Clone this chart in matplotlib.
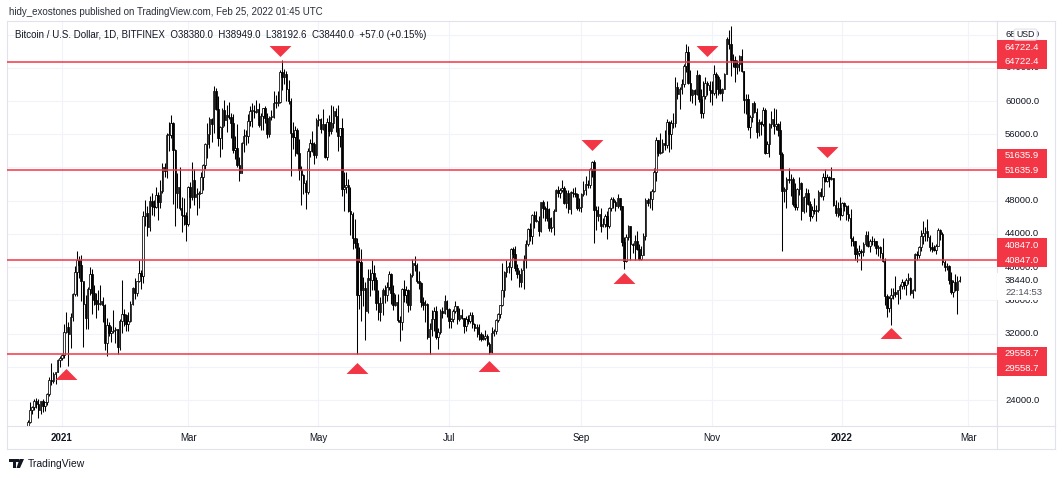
import numpy as np
import pandas as pd
import matplotlib
matplotlib.use("Agg")
import matplotlib.pyplot as plt
from matplotlib.patches import Rectangle, FancyBboxPatch, Polygon
from matplotlib.lines import Line2D

plt.rcParams['font.family'] = ['Liberation Sans', 'DejaVu Sans']

# BTC/USD daily candles (Bitfinex), thousands of USD, 2020-12-16 .. 2022-02-25
first_open = 19.44
closes = [
    # Dec 2020 (16..31)
    21.38, 22.84, 23.14, 23.87, 23.48, 22.75, 23.83, 23.24, 23.73, 24.71, 26.44, 26.27, 27.08, 27.36, 28.84, 29.00,
    # Jan 2021
    29.37, 32.13, 32.78, 31.97, 33.99, 36.82, 39.37, 40.80, 40.25, 38.36, 35.57, 33.92, 37.32, 39.19, 36.83, 36.07,
    35.53, 35.62, 35.90, 35.46, 30.83, 32.99, 32.07, 32.29, 32.37, 32.57, 30.43, 33.47, 34.32, 34.27, 33.11,
    # Feb
    33.54, 35.51, 37.47, 36.93, 38.29, 39.26, 38.90, 46.20, 46.48, 44.84, 47.97, 47.30, 47.20, 48.70, 47.90, 49.20,
    52.10, 51.60, 55.90, 55.90, 57.40, 54.10, 48.90, 49.70, 47.10, 46.30, 46.20, 45.20,
    # Mar
    49.60, 48.40, 50.50, 48.40, 48.80, 48.90, 50.90, 52.30, 54.80, 56.00, 57.80, 57.20, 61.20, 59.00, 55.60, 56.90,
    58.90, 57.70, 58.30, 58.10, 57.40, 54.10, 54.30, 52.30, 51.30, 55.00, 55.80, 55.80, 57.60, 58.80, 58.80,
    # Apr
    58.70, 59.00, 57.10, 58.20, 59.10, 58.00, 56.00, 58.10, 58.10, 59.80, 59.80, 59.90, 63.50, 62.90, 63.20, 61.40,
    60.00, 56.20, 55.70, 56.50, 53.80, 51.70, 51.10, 50.10, 49.10, 54.00, 55.00, 54.80, 53.50, 57.70,
    # May
    57.80, 56.60, 57.20, 53.20, 57.50, 56.40, 57.40, 58.80, 58.20, 55.80, 56.70, 49.40, 49.70, 49.90, 46.70, 46.40,
    43.50, 42.90, 36.70, 40.60, 37.30, 37.50, 34.70, 38.70, 38.40, 39.30, 38.50, 35.70, 34.60, 35.70, 37.30,
    # Jun
    36.70, 37.60, 39.20, 36.90, 35.50, 35.80, 33.60, 33.40, 37.40, 36.70, 37.30, 35.50, 39.10, 40.50, 40.20, 38.30,
    38.10, 35.80, 35.50, 35.60, 31.60, 32.50, 33.70, 34.70, 31.60, 32.20, 34.70, 34.50, 35.90, 35.00,
    # Jul
    33.50, 33.80, 34.70, 35.30, 33.70, 34.20, 33.90, 32.90, 33.80, 33.50, 34.20, 33.10, 32.70, 32.80, 31.90, 31.40,
    31.50, 31.70, 30.80, 29.80, 32.10, 32.30, 33.60, 34.30, 35.40, 37.30, 39.40, 40.00, 40.00, 42.20, 41.60,
    # Aug
    39.90, 39.20, 38.20, 39.70, 40.90, 42.80, 44.60, 43.80, 46.30, 45.60, 45.60, 44.40, 47.80, 47.10, 47.00, 45.90,
    44.70, 44.80, 46.70, 49.30, 48.90, 49.30, 49.50, 47.70, 48.90, 47.00, 49.10, 48.90, 48.80, 47.10, 47.20,
    # Sep
    48.80, 49.30, 50.00, 49.90, 51.80, 52.70, 46.90, 46.10, 46.40, 44.90, 45.20, 46.10, 44.90, 47.10, 48.20, 47.80,
    47.30, 48.30, 47.30, 43.00, 40.70, 43.60, 44.90, 42.80, 42.70, 43.20, 42.20, 41.00, 41.50, 43.80,
    # Oct
    48.10, 47.70, 48.20, 49.20, 51.50, 55.30, 53.80, 53.90, 54.90, 54.70, 57.50, 56.00, 57.40, 57.30, 61.70, 60.90,
    61.50, 62.00, 64.20, 65.90, 62.20, 60.70, 61.30, 60.90, 63.10, 60.30, 58.50, 60.60, 62.20, 61.90, 61.30,
    # Nov
    61.00, 63.20, 62.90, 61.40, 61.00, 61.50, 63.30, 67.50, 66.90, 64.90, 64.90, 64.10, 64.40, 65.40, 63.60, 60.10,
    60.30, 56.90, 58.10, 59.70, 58.70, 56.30, 57.50, 57.20, 58.90, 53.70, 54.80, 57.20, 57.80, 57.00,
    # Dec
    57.20, 56.50, 53.60, 49.20, 49.40, 50.60, 50.50, 50.60, 47.60, 47.20, 49.40, 50.10, 46.70, 48.40, 48.90, 47.60,
    46.20, 46.90, 46.70, 46.90, 49.00, 48.60, 50.80, 50.40, 50.80, 50.60, 50.70, 47.50, 46.50, 47.10, 46.30,
    # Jan 2022
    47.70, 47.30, 46.40, 45.90, 43.50, 43.10, 41.60, 41.70, 41.90, 41.80, 42.80, 43.90, 42.60, 43.10, 43.10, 43.20,
    42.30, 42.40, 41.70, 40.70, 36.50, 35.10, 36.30, 36.70, 37.00, 36.80, 37.20, 37.70, 38.20, 37.90, 38.50,
    # Feb (1..25)
    38.70, 36.90, 37.30, 41.60, 41.40, 42.40, 43.80, 44.10, 44.40, 43.60, 42.40, 42.20, 42.10, 42.50, 44.50, 44.00,
    40.60, 40.00, 40.10, 38.40, 37.00, 38.20, 37.30, 38.38, 38.44,
]
highs = [
    21.56, 23.80, 23.24, 24.10, 24.29, 24.10, 23.84, 24.09, 23.78, 24.79, 26.72, 28.42, 27.39, 27.37, 28.94, 29.30,
    29.60, 33.16, 34.61, 33.44, 34.44, 36.88, 40.18, 41.95, 41.35, 41.42, 38.26, 36.60, 37.60, 40.00, 39.72, 37.89,
    36.85, 37.30, 37.85, 36.40, 35.55, 33.83, 33.42, 32.94, 34.80, 32.85, 32.58, 33.73, 38.50, 34.90, 34.30,
    34.65, 35.90, 37.66, 38.70, 38.30, 40.90, 39.70, 46.70, 48.10, 47.30, 48.60, 48.90, 48.10, 49.70, 49.00, 50.50,
    52.50, 52.50, 56.20, 57.50, 58.30, 57.50, 54.20, 51.30, 52.00, 48.40, 48.30, 46.60,
    49.80, 50.20, 52.60, 51.80, 49.50, 49.20, 51.40, 52.40, 54.90, 57.30, 58.10, 58.00, 61.80, 61.60, 60.60, 57.00,
    59.10, 60.10, 59.50, 59.90, 58.60, 58.40, 55.80, 57.20, 53.20, 55.10, 56.60, 56.50, 58.40, 59.40, 59.80,
    59.50, 60.10, 59.80, 58.50, 59.20, 59.40, 58.60, 58.20, 58.90, 61.20, 60.70, 61.20, 63.70, 64.90, 63.80, 63.60,
    62.50, 60.40, 57.50, 57.00, 56.70, 55.40, 52.20, 51.20, 50.50, 54.30, 55.40, 56.40, 55.10, 57.90,
    58.40, 57.90, 59.00, 57.20, 57.90, 58.30, 59.50, 59.40, 59.20, 59.50, 56.80, 58.00, 51.40, 51.50, 50.60, 49.70,
    46.60, 45.80, 43.50, 42.40, 42.20, 38.80, 38.20, 39.80, 39.80, 40.80, 40.30, 38.80, 37.30, 36.40, 37.50,
    37.90, 38.20, 39.50, 39.30, 37.90, 36.80, 36.80, 34.10, 37.50, 38.40, 37.70, 37.40, 39.30, 41.00, 41.30, 40.50,
    39.50, 38.20, 36.40, 36.10, 35.70, 33.30, 34.80, 35.20, 35.30, 32.70, 34.90, 35.20, 36.60, 36.00,
    35.10, 33.90, 35.00, 35.90, 35.30, 35.10, 35.00, 33.90, 34.10, 34.20, 34.60, 34.60, 33.30, 33.10, 33.20, 32.20,
    31.90, 32.40, 31.90, 31.00, 32.80, 32.60, 33.70, 34.50, 35.50, 40.55, 39.50, 40.90, 40.60, 42.30, 42.40,
    42.60, 40.40, 39.70, 39.90, 41.40, 43.30, 44.70, 45.30, 46.40, 46.70, 46.80, 46.20, 47.90, 48.10, 47.40, 48.00,
    47.10, 46.00, 47.00, 49.40, 49.80, 49.50, 50.50, 49.80, 49.30, 49.30, 49.20, 49.50, 49.70, 48.90, 48.30,
    48.90, 50.40, 51.00, 50.50, 51.90, 52.80, 52.90, 47.30, 47.40, 47.10, 45.90, 46.40, 46.80, 47.20, 48.40, 48.50,
    48.10, 48.80, 48.30, 47.30, 43.60, 44.00, 45.10, 45.00, 42.90, 43.90, 44.30, 42.80, 42.60, 44.10,
    48.30, 48.30, 49.20, 49.40, 51.90, 55.70, 55.30, 56.10, 55.40, 56.50, 57.80, 57.60, 57.70, 58.50, 62.90, 62.30,
    61.70, 62.60, 64.40, 66.90, 66.60, 63.70, 61.50, 61.40, 63.70, 63.30, 61.40, 62.40, 62.90, 62.40, 62.40,
    62.40, 64.30, 63.50, 63.10, 62.60, 61.60, 63.40, 67.70, 68.50, 69.00, 65.60, 65.40, 64.90, 65.50, 66.30, 63.60,
    60.80, 60.90, 58.30, 59.80, 60.00, 59.20, 57.80, 57.60, 59.30, 59.10, 55.20, 57.30, 58.80, 59.10,
    59.00, 57.40, 57.60, 53.90, 49.60, 50.90, 51.90, 51.20, 50.80, 50.10, 49.50, 50.80, 50.20, 48.60, 49.50, 49.40,
    48.00, 47.30, 48.30, 47.50, 49.30, 49.50, 51.30, 51.80, 51.20, 51.00, 52.00, 50.70, 48.10, 47.90, 48.50,
    47.90, 47.90, 47.50, 47.50, 47.00, 43.70, 43.10, 42.30, 42.70, 42.20, 43.00, 44.30, 44.40, 43.40, 43.70, 43.50,
    43.20, 42.70, 42.60, 43.50, 41.10, 36.80, 36.50, 37.50, 37.50, 38.90, 37.30, 38.00, 38.60, 38.30, 38.70,
    39.30, 38.80, 37.40, 41.70, 41.90, 42.60, 44.50, 45.50, 44.80, 45.80, 43.90, 43.00, 42.70, 42.80, 44.70, 44.60,
    44.20, 40.90, 40.50, 40.20, 39.40, 38.40, 39.20, 38.90, 38.95,
]
lows = [
    19.29, 21.23, 22.35, 22.80, 23.07, 21.82, 22.36, 22.61, 22.70, 23.46, 24.52, 25.86, 26.05, 25.92, 27.36, 27.96,
    28.80, 29.09, 32.05, 28.13, 30.22, 33.51, 36.49, 36.57, 38.72, 35.98, 30.42, 32.53, 32.58, 36.70, 34.41, 35.41,
    33.85, 34.80, 35.50, 33.40, 30.07, 29.30, 31.68, 30.96, 32.10, 30.83, 29.60, 30.00, 32.10, 32.90, 32.30,
    32.30, 33.42, 35.40, 36.16, 36.58, 38.20, 37.40, 38.05, 45.00, 43.80, 44.30, 46.30, 46.20, 47.10, 45.70, 47.10,
    48.90, 50.90, 50.70, 54.00, 55.50, 47.60, 45.00, 47.10, 46.90, 44.20, 45.10, 43.10,
    45.00, 47.10, 48.10, 47.50, 46.30, 47.10, 48.90, 49.30, 51.80, 53.10, 54.30, 55.10, 56.10, 58.90, 54.60, 53.30,
    54.20, 57.00, 56.30, 57.80, 55.50, 53.70, 53.00, 52.00, 50.40, 51.30, 53.90, 54.70, 54.90, 57.00, 56.90,
    57.90, 58.50, 56.90, 56.50, 56.50, 57.40, 55.50, 55.70, 57.70, 57.90, 59.20, 59.40, 59.80, 61.30, 62.00, 60.00,
    59.60, 51.00, 54.20, 53.40, 53.60, 50.50, 47.50, 48.80, 47.00, 48.80, 53.30, 53.90, 52.40, 53.10,
    57.00, 56.10, 56.50, 53.10, 52.90, 55.80, 56.00, 56.70, 56.30, 54.00, 54.50, 48.60, 46.80, 48.90, 46.60, 43.90,
    42.20, 42.30, 29.60, 35.00, 33.50, 35.30, 31.20, 34.50, 36.50, 37.20, 37.20, 34.80, 33.60, 33.50, 34.20,
    35.70, 35.90, 37.20, 35.60, 34.80, 35.30, 33.40, 31.10, 32.40, 35.80, 35.70, 34.60, 34.80, 38.80, 39.50, 38.10,
    37.40, 35.20, 34.80, 33.40, 31.30, 29.60, 31.70, 32.30, 31.30, 30.20, 32.00, 33.90, 34.30, 34.00,
    32.70, 32.70, 33.40, 34.50, 33.20, 33.50, 33.80, 32.10, 32.30, 33.10, 33.30, 32.70, 32.30, 31.60, 31.20, 31.10,
    31.20, 31.20, 30.50, 29.56, 29.70, 31.70, 32.00, 33.40, 33.90, 35.30, 36.40, 38.80, 39.30, 38.40, 41.10,
    39.50, 38.70, 37.60, 37.60, 37.40, 39.90, 42.50, 43.20, 42.80, 44.70, 45.40, 43.80, 44.20, 45.90, 45.60, 45.60,
    44.40, 44.20, 43.90, 46.70, 48.40, 48.30, 49.10, 47.60, 47.10, 46.50, 46.40, 48.50, 48.40, 46.90, 46.80,
    46.60, 48.60, 48.70, 49.50, 49.50, 50.90, 42.90, 44.50, 45.50, 44.20, 44.80, 44.80, 43.40, 44.70, 46.80, 47.10,
    46.80, 47.10, 46.90, 42.60, 39.80, 40.60, 43.30, 40.90, 41.70, 40.80, 42.10, 40.90, 40.80, 41.50,
    43.30, 47.40, 47.10, 46.90, 49.00, 50.40, 53.40, 53.60, 53.70, 54.10, 54.40, 53.90, 54.20, 56.80, 56.90, 60.20,
    59.00, 60.90, 61.70, 63.50, 62.00, 60.00, 59.70, 59.50, 60.70, 59.90, 58.00, 58.00, 60.20, 60.70, 59.90,
    59.50, 60.70, 60.40, 60.70, 60.80, 60.00, 61.40, 63.20, 66.30, 63.00, 64.10, 62.30, 63.30, 63.60, 63.50, 58.60,
    58.40, 56.50, 55.60, 57.50, 58.50, 55.60, 55.80, 55.90, 57.00, 53.60, 53.70, 53.30, 56.70, 56.00,
    56.50, 55.80, 51.70, 42.00, 47.80, 47.10, 50.10, 48.60, 47.30, 46.90, 46.90, 48.70, 45.70, 46.50, 46.60, 47.50,
    45.50, 45.90, 46.40, 45.60, 46.60, 48.40, 48.10, 50.20, 50.20, 49.70, 50.50, 47.30, 46.20, 46.00, 45.70,
    46.20, 46.70, 45.70, 45.50, 42.60, 42.50, 40.90, 40.60, 41.30, 39.70, 41.30, 42.50, 42.40, 41.80, 42.70, 42.60,
    41.60, 41.30, 41.10, 40.60, 35.50, 34.00, 34.60, 33.00, 36.20, 36.40, 35.60, 36.20, 37.40, 37.40, 36.70,
    38.00, 36.60, 36.30, 37.10, 40.90, 41.10, 42.00, 42.80, 43.20, 43.20, 41.90, 41.80, 41.90, 41.60, 42.50, 43.30,
    40.20, 39.50, 39.70, 38.00, 36.80, 36.40, 37.10, 34.30, 38.19,
]

# horizontal support / resistance levels
levels = [64722.4, 51635.9, 40847.0, 29558.7]
level_label_side = [1, 1, 1, -1]  # where the duplicate label is stacked

# swing markers
top_dates = ["2021-04-13", "2021-09-06", "2021-10-30", "2021-12-25"]
top_prices = [66020, 54700, 66080, 53920]
bottom_dates = ["2021-01-03", "2021-05-19", "2021-07-20", "2021-09-21", "2022-01-24"]
bottom_prices = [27130, 27860, 28130, 38690, 32010]

# price scale labels that are not fully covered by the level tags
price_ticks = list(range(24000, 68001, 4000))
price_labels = [24000, 32000, 36000, 40000, 44000, 48000, 56000, 60000, 64000, 68000]
time_tick_dates = ["2021-01-01", "2021-03-01", "2021-05-01", "2021-07-01",
                   "2021-09-01", "2021-11-01", "2022-01-01", "2022-03-01"]
time_tick_labels = ["2021", "Mar", "May", "Jul", "Sep", "Nov", "2022", "Mar"]

last_price = 38440.0
countdown = "22:14:53"

# ---------------------------------------------------------------
W, H = 1062, 478
RED = "#f23645"
FRAME = "#e0e3eb"
GRID = "#f0f3fa"
TXT = "#131722"


def fx(px):
    return px / W


def fy(py):
    return 1 - py / H


origin = pd.Timestamp("2021-01-01")
dates = pd.date_range("2020-12-16", periods=len(closes), freq="D")
x = (dates - origin).days.to_numpy()
c = np.array(closes) * 1000
h = np.array(highs) * 1000
l = np.array(lows) * 1000
o = np.concatenate([[first_open * 1000], c[:-1]])

fig = plt.figure(figsize=(W / 100, H / 100), dpi=100)
fig.patch.set_facecolor("white")

L, R, AR, T, B, TB = 7, 997, 1055, 21, 426, 449
ax = fig.add_axes([fx(L), fy(B), (R - L) / W, (B - T) / H])
ax2 = fig.add_axes([fx(R), fy(B), (AR - R) / W, (B - T) / H])

ymin, ymax = 20872, 69632
px_day = 2.137
ax.set_xlim((L - 62) / px_day, (R - 62) / px_day)
ax.set_ylim(ymin, ymax)
usd_px = (ymax - ymin) / (B - T)

# candles
up = c >= o
ax.vlines(x, l, h, color="black", lw=0.75, zorder=2)
body_lo = np.minimum(o, c)
body_h = np.maximum(np.abs(c - o), usd_px * 0.8)
ax.bar(x[up], body_h[up], bottom=body_lo[up], width=0.7, color="white",
       edgecolor="black", linewidth=0.55, zorder=2.5)
ax.bar(x[~up], body_h[~up], bottom=body_lo[~up], width=0.7, color="black",
       edgecolor="black", linewidth=0.55, zorder=2.5)

# levels
for lv in levels:
    ax.axhline(lv, color=RED, lw=1.1, zorder=3)

# markers
down_tri = [(-1, 0.5), (1, 0.5), (0, -0.5), (-1, 0.5)]
up_tri = [(-1, -0.5), (1, -0.5), (0, 0.5), (-1, -0.5)]
tx = (pd.to_datetime(top_dates) - origin).days
bx = (pd.to_datetime(bottom_dates) - origin).days
ax.plot(tx, top_prices, ls="none", marker=down_tri, markersize=15.8,
        color=RED, markeredgewidth=0, zorder=4)
ax.plot(bx, bottom_prices, ls="none", marker=up_tri, markersize=15.8,
        color=RED, markeredgewidth=0, zorder=4)

# grid / ticks
tick_x = (pd.to_datetime(time_tick_dates) - origin).days
ax.set_xticks(tick_x)
ax.set_xticklabels(time_tick_labels)
for lab in ax.get_xticklabels():
    lab.set_fontsize(7)
    lab.set_color(TXT)
    if lab.get_text().isdigit():
        lab.set_fontweight("bold")
ax.set_yticks(price_ticks)
ax.tick_params(axis="x", length=0, pad=5)
ax.tick_params(axis="y", length=0, labelleft=False)
ax.grid(True, color=GRID, lw=0.8, zorder=0)
ax.set_axisbelow(True)
for s in ax.spines.values():
    s.set_color(FRAME)
    s.set_linewidth(0.8)

# legend line inside chart
fig.text(fx(15), fy(35), "Bitcoin / U.S. Dollar, 1D, BITFINEX  O38380.0  H38949.0  L38192.6  C38440.0  +57.0 (+0.15%)",
         fontsize=7.0, color=TXT, va="center", ha="left")

# price scale
ax2.set_xlim(0, AR - R)
ax2.set_ylim(ymin, ymax)
ax2.set_xticks([])
ax2.set_yticks([])
for s in ax2.spines.values():
    s.set_color(FRAME)
    s.set_linewidth(0.8)
for v in price_labels:
    ax2.text(8, v, f"{v:.1f}", fontsize=6.8, color=TXT, va="center", ha="left", zorder=1)

cell = 14.5 * usd_px
for lv, side in zip(levels, level_label_side):
    y0 = lv - cell / 2 if side > 0 else lv - 1.5 * cell
    ax2.add_patch(Rectangle((0, y0), 50, 2 * cell, color=RED, zorder=5, lw=0))
    for yy in (lv, lv + side * cell):
        ax2.text(25, yy, f"{lv:.1f}", fontsize=6.8, color="white", va="center",
                 ha="center", zorder=6)

ax2.add_patch(Rectangle((0, last_price - 20 * usd_px), 50, 27 * usd_px,
                        color="white", zorder=4, lw=0))
ax2.text(8, last_price, f"{last_price:.1f}", fontsize=6.8, color=TXT, va="center", ha="left", zorder=6)
ax2.text(8, last_price - 12.5 * usd_px, countdown, fontsize=6.8, color="#50535e",
         va="center", ha="left", zorder=6)

ax2.add_patch(FancyBboxPatch((17, 68000 - 5.5 * usd_px), 23, 11 * usd_px,
                             boxstyle="round,pad=0,rounding_size=2", mutation_aspect=usd_px,
                             facecolor="white", edgecolor=FRAME, lw=0.8, zorder=7))
ax2.text(28.5, 68000, "USD", fontsize=6.3, color=TXT, va="center", ha="center", zorder=8)

# time scale frame
for xs, ys in [((L, AR), (TB, TB)), ((L, L), (B, TB)), ((R, R), (B, TB)), ((AR, AR), (B, TB))]:
    fig.add_artist(Line2D([fx(xs[0]), fx(xs[1])], [fy(ys[0]), fy(ys[1])],
                          color=FRAME, lw=0.8, transform=fig.transFigure))

# header and footer
fig.text(fx(9), fy(12), "hidy_exostones published on TradingView.com, Feb 25, 2022 01:45 UTC",
         fontsize=7, color="#2a2e39", va="center", ha="left")
fig.text(fx(28), fy(464), "TradingView", fontsize=7.5, color=TXT, va="center", ha="left")
logo = [
    [(9, 459), (16, 459), (16, 468), (13, 468), (13, 462), (9, 462)],
    [(19.5, 459), (24, 459), (20, 468), (16.5, 468)],
]
for poly in logo:
    fig.add_artist(Polygon([(fx(px), fy(py)) for px, py in poly], closed=True,
                           color=TXT, transform=fig.transFigure, lw=0))
fig.add_artist(Polygon([(fx(16), fy(459)), (fx(19), fy(459)), (fx(19), fy(462)), (fx(16), fy(462))],
                       closed=True, color=TXT, transform=fig.transFigure, lw=0))

fig.savefig("out.png", dpi=100)
